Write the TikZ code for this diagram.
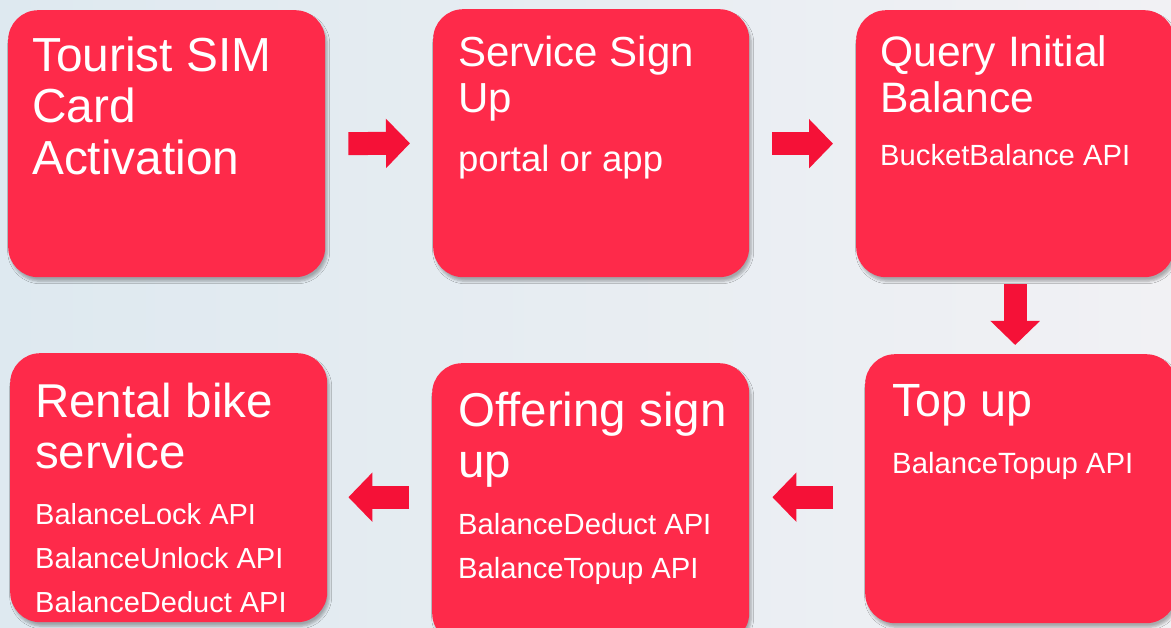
\documentclass[tikz,border=0pt]{standalone}
\usepackage{fontspec}
\setmainfont{Liberation Sans}
\usetikzlibrary{arrows.meta,shadows.blur,calc}
\definecolor{boxred}{RGB}{254,42,74}
\definecolor{arrowred}{RGB}{245,17,55}
\definecolor{bgl}{RGB}{222,233,240}
\definecolor{bgr}{RGB}{241,241,244}
\tikzset{
 stepbox/.style={rectangle, rounded corners=30pt, fill=boxred, anchor=north west, inner sep=0pt,
   blur shadow={shadow xshift=2pt, shadow yshift=-4pt, shadow blur steps=5, shadow opacity=30, shadow blur radius=2.5pt}},
 ttl/.style={anchor=base west, inner sep=0pt, text=white},
 flow/.style={draw=arrowred, line width=23pt, -{Triangle[width=48pt,length=24pt]}},
}
\begin{document}
\begin{tikzpicture}[x=1pt,y=-1pt]
\useasboundingbox (0,0) rectangle (1171,628);
\clip (0,0) rectangle (1171,628);
\shade[left color=bgl, right color=bgr] (0,0) rectangle (1171,628);
% boxes
\node[stepbox, minimum width=317pt, minimum height=267pt] (b1) at (8,10) {};
\node[stepbox, minimum width=316pt, minimum height=268pt] (b2) at (433,9) {};
\node[stepbox, minimum width=318pt, minimum height=267pt] (b3) at (856,10) {};
\node[stepbox, minimum width=311pt, minimum height=269pt] (b4) at (865,354) {};
\node[stepbox, minimum width=317pt, minimum height=280pt] (b5) at (432,363) {};
\node[stepbox, minimum width=317pt, minimum height=269pt] (b6) at (10,353) {};
% texts box 1
\node[ttl, font=\fontsize{47.8}{52}\selectfont] (t1a) at (32,72) {Tourist SIM};
\node[ttl, font=\fontsize{47.8}{52}\selectfont] (t1b) at (32,123) {Card};
\node[ttl, font=\fontsize{47.8}{52}\selectfont] (t1c) at (32,175) {Activation};
% box 2
\node[ttl, font=\fontsize{42}{46}\selectfont] (t2a) at (458,67) {Service Sign};
\node[ttl, font=\fontsize{42}{46}\selectfont] (t2b) at (458,113) {Up};
\node[ttl, font=\fontsize{36.5}{40}\selectfont] (t2c) at (458,172) {portal or app};
% box 3
\node[ttl, font=\fontsize{42.6}{46}\selectfont] (t3a) at (880,67) {Query Initial};
\node[ttl, font=\fontsize{42.6}{46}\selectfont] (t3b) at (880,113) {Balance};
\node[ttl, font=\fontsize{29.2}{32}\selectfont] (t3c) at (880,166) {BucketBalance API};
% box 4
\node[ttl, font=\fontsize{46.6}{50}\selectfont] (t4a) at (892,417) {Top up};
\node[ttl, font=\fontsize{29.3}{32}\selectfont] (t4b) at (892,473) {BalanceTopup API};
% box 5
\node[ttl, font=\fontsize{47.5}{50}\selectfont] (t5a) at (458,427) {Offering sign};
\node[ttl, font=\fontsize{29.2}{32}\selectfont] (t5b) at (458,477) {\fontsize{47.5}{50}\selectfont up};
\node[ttl, font=\fontsize{29.2}{32}\selectfont] (t5c) at (458,534) {BalanceDeduct API};
\node[ttl, font=\fontsize{29.2}{32}\selectfont] (t5d) at (458,578) {BalanceTopup API};
% box 6
\node[ttl, font=\fontsize{47.5}{50}\selectfont] (t6a) at (35,418) {Rental bike};
\node[ttl, font=\fontsize{47.5}{50}\selectfont] (t6b) at (35,468) {service};
\node[ttl, font=\fontsize{29}{32}\selectfont] (t6c) at (35,524) {BalanceLock API};
\node[ttl, font=\fontsize{29}{32}\selectfont] (t6d) at (35,568) {BalanceUnlock API};
\node[ttl, font=\fontsize{29}{32}\selectfont] (t6e) at (35,612) {BalanceDeduct API};
% arrows
\draw[flow, shorten <=23pt, shorten >=23pt] (b1.east) -- (b2.west);
\draw[flow, shorten <=23pt, shorten >=23pt] (b2.east |- b1.east) -- (b3.west |- b1.east);
\draw[flow, shorten <=7pt, shorten >=9pt] (b3.south) -- (b3.south |- b4.north);
\coordinate (r2) at ([yshift=-8.5pt]b4.west);
\draw[flow, shorten <=32pt, shorten >=23pt] (r2) -- (r2 -| b5.east);
\draw[flow, shorten <=23pt, shorten >=21pt] (r2 -| b5.west) -- (r2 -| b6.east);
\end{tikzpicture}
\end{document}
